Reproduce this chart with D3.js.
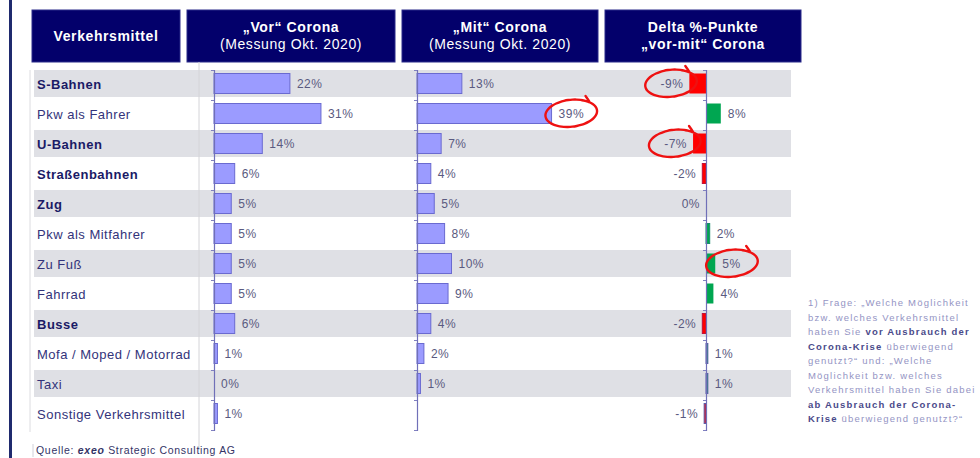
<!DOCTYPE html>
<html><head><meta charset="utf-8">
<script src="https://cdn.jsdelivr.net/npm/d3@7"></script>
<style>
html,body{margin:0;padding:0;background:#fff;}
svg{display:block;font-family:Arial,"Liberation Sans",sans-serif;}
</style></head>
<body>
<svg id="chart" width="980" height="458"></svg>
<script>
// ---- data ----
const categories = ["S-Bahnen","Pkw als Fahrer","U-Bahnen","Straßenbahnen","Zug","Pkw als Mitfahrer","Zu Fuß","Fahrrad","Busse","Mofa / Moped / Motorrad","Taxi","Sonstige Verkehrsmittel"];
const boldCategories = ["S-Bahnen","U-Bahnen","Straßenbahnen","Zug","Busse"];
const vorValues = [22,31,14,6,5,5,5,5,6,1,0,1];
const mitValues = [13,39,7,4,5,8,10,9,4,2,1,null];
const deltaValues = [-9,8,-7,-2,0,2,5,4,-2,1,1,-1];
const headers = [
  {lines:["Verkehrsmittel"]},
  {lines:["„Vor“ Corona","(Messung Okt. 2020)"]},
  {lines:["„Mit“ Corona","(Messung Okt. 2020)"]},
  {lines:["Delta %-Punkte","„vor-mit“ Corona"]}
];
const highlighted = [{col:"delta",cat:"S-Bahnen"},{col:"mit",cat:"Pkw als Fahrer"},{col:"delta",cat:"U-Bahnen"},{col:"delta",cat:"Zu Fuß"}];
const footnote = [
  [["1) Frage: „Welche Möglichkeit",0]],
  [["bzw. welches Verkehrsmittel",0]],
  [["haben Sie ",0],["vor Ausbrauch der",1]],
  [["Corona-Krise",1],[" überwiegend",0]],
  [["genutzt?“ und: „Welche",0]],
  [["Möglichkeit bzw. welches",0]],
  [["Verkehrsmittel haben Sie dabei",0]],
  [["ab Ausbrauch der Corona-",1]],
  [["Krise",1],[" überwiegend genutzt?“",0]]
];

// ---- layout ----
const svg = d3.select("#chart");
const navy = "#03006b";
const y = d3.scaleBand().domain(categories).range([70,430]);
const yIdx = d3.scaleLinear().domain([0,categories.length]).range([70,430]);
const xVor = d3.scaleLinear().domain([0,40]).range([214,352]);
const xMit = d3.scaleLinear().domain([0,40]).range([417,555]);
const xDelta = d3.scaleLinear().domain([-10,10]).range([687.5,724.5]);

// left border
svg.append("rect").attr("x",9).attr("y",0).attr("width",3).attr("height",458).attr("fill","#1f2a6e");

// header boxes
const headerX = [[32,180],[187,395],[402,598],[605,801]];
headers.forEach((h,i)=>{
  const [x0,x1] = headerX[i];
  svg.append("rect").attr("x",x0).attr("y",10).attr("width",x1-x0).attr("height",52)
    .attr("fill",navy).attr("stroke","#2a2a8a").attr("stroke-width",1);
  const cx=(x0+x1)/2;
  if(h.lines.length===1){
    svg.append("text").attr("x",cx).attr("y",41).attr("text-anchor","middle")
      .attr("fill","#fff").attr("font-size",14).attr("letter-spacing","0.6px").attr("font-weight","bold").text(h.lines[0]);
  } else {
    h.lines.forEach((l,j)=>{
      svg.append("text").attr("x",cx).attr("y",32+j*17).attr("text-anchor","middle")
        .attr("fill","#fff").attr("font-size",14).attr("letter-spacing","0.6px")
        .attr("font-weight",(i===3||j===0)?"bold":"normal").text(l);
    });
  }
});

// gray bands
svg.append("g").selectAll("rect").data(categories.filter((c,i)=>i%2===0)).join("rect")
  .attr("x",34).attr("width",757).attr("y",d=>y(d)).attr("height",27).attr("fill","#dfe0e5");

// separator lines
svg.append("line").attr("x1",199).attr("x2",199).attr("y1",62).attr("y2",450).attr("stroke","#d4d4d8").attr("stroke-width",1);
svg.append("line").attr("x1",30).attr("x2",30).attr("y1",70).attr("y2",432).attr("stroke","#dcdce0").attr("stroke-width",1);
svg.append("line").attr("x1",33).attr("x2",33).attr("y1",444).attr("y2",457).attr("stroke","#d0d0d8").attr("stroke-width",1);

// category labels
svg.append("g").selectAll("text").data(categories).join("text")
  .attr("x",37).attr("y",d=>y(d)+14).attr("dy","0.35em")
  .attr("font-size",13).attr("letter-spacing","0.5px")
  .attr("font-weight",d=>boldCategories.includes(d)?"bold":"normal")
  .attr("fill",d=>boldCategories.includes(d)?"#1a1a66":"#33337a")
  .text(d=>d);

const labelColor="#5a5a80";
function barColumn(values, x){
  const g = svg.append("g");
  const data = categories.map((c,i)=>({c,v:values[i]})).filter(d=>d.v!==null);
  g.selectAll("rect").data(data).join("rect")
    .attr("x",x(0)).attr("y",d=>y(d.c)+3.5).attr("height",20)
    .attr("width",d=>x(d.v)-x(0))
    .attr("fill","#9b9bff").attr("stroke","#6a6ad0").attr("stroke-width",1);
  g.selectAll("text").data(data).join("text")
    .attr("x",d=>x(d.v)+7).attr("y",d=>y(d.c)+14).attr("dy","0.35em")
    .attr("font-size",12).attr("letter-spacing","0.5px").attr("fill",labelColor).text(d=>d.v+"%");
}
barColumn(vorValues,xVor);
barColumn(mitValues,xMit);

// delta bars
const dg = svg.append("g");
const ddata = categories.map((c,i)=>({c,v:deltaValues[i]}));
dg.selectAll("rect").data(ddata.filter(d=>d.v!==0)).join("rect")
  .attr("x",d=>Math.min(xDelta(0),xDelta(d.v))).attr("y",d=>y(d.c)+3.5).attr("height",20)
  .attr("width",d=>Math.abs(xDelta(d.v)-xDelta(0)))
  .attr("fill",d=>d.v<0?"#ff0000":"#00a651")
  .attr("stroke",d=>Math.abs(d.v)===1?"#5a5aa8":(Math.abs(d.v)===2?(d.v<0?"#c0103a":"#1a8a70"):"none"))
  .attr("stroke-width",1);
dg.selectAll("text").data(ddata).join("text")
  .attr("x",d=>d.v>0?xDelta(d.v)+7:Math.min(xDelta(d.v),xDelta(0))-6)
  .attr("text-anchor",d=>d.v>0?"start":"end")
  .attr("y",d=>y(d.c)+14).attr("dy","0.35em")
  .attr("font-size",12).attr("letter-spacing","0.5px").attr("fill",labelColor).text(d=>d.v+"%");

// axes
[xVor(0),xMit(0),xDelta(0)].forEach(x0=>{
  const ax = svg.append("g").attr("transform",`translate(${x0},0)`)
    .call(d3.axisLeft(yIdx).ticks(12).tickSize(3).tickFormat(""));
  ax.select(".domain").attr("stroke","#7070b8").attr("stroke-width",1.2);
  ax.selectAll(".tick line").attr("stroke","#8080c0");
});

// red hand-drawn circles
function labelCenter(h){
  const i = categories.indexOf(h.cat);
  if(h.col==="mit"){ return [xMit(mitValues[i])+20, y(h.cat)+13]; }
  const v=deltaValues[i];
  return v>0?[xDelta(v)+17, y(h.cat)+13]:[Math.min(xDelta(v),xDelta(0))-18, y(h.cat)+13];
}
const loopLine = d3.line().curve(d3.curveBasis);
highlighted.forEach(h=>{
  const [cx,cy]=labelCenter(h);
  const pts=[];
  const n=40;
  for(let k=0;k<=n;k++){
    const t = -0.35*Math.PI + k/n*2.15*Math.PI;
    const r = 1 + 0.06*Math.sin(k/n*Math.PI);
    const rx=25*r, ry=13*r;
    const tilt=-0.12;
    const ex=rx*Math.cos(t), ey=ry*Math.sin(t);
    pts.push([cx+ex*Math.cos(tilt)-ey*Math.sin(tilt), cy+ex*Math.sin(tilt)+ey*Math.cos(tilt)]);
  }
  pts.push([cx+14,cy-17]);
  svg.append("path").attr("d",loopLine(pts)).attr("fill","none")
    .attr("stroke","#ee1111").attr("stroke-width",2.4).attr("stroke-linecap","round");
});

// footnote
const fn = svg.append("g");
footnote.forEach((line,i)=>{
  const t = fn.append("text").attr("x",808).attr("y",306+i*14.5).attr("font-size",9.5).attr("letter-spacing","1.2px");
  line.forEach(([s,b])=>{
    t.append("tspan").attr("font-weight",b?"bold":"normal").attr("fill",b?"#4a4a8a":"#9494c4").text(s);
  });
});

// source
const src = svg.append("text").attr("x",36).attr("y",454).attr("font-size",10.5).attr("letter-spacing","0.7px").attr("fill","#333366");
src.append("tspan").text("Quelle: ");
src.append("tspan").attr("font-weight","bold").attr("font-style","italic").text("exeo");
src.append("tspan").text(" Strategic Consulting AG");
</script>
</body></html>
